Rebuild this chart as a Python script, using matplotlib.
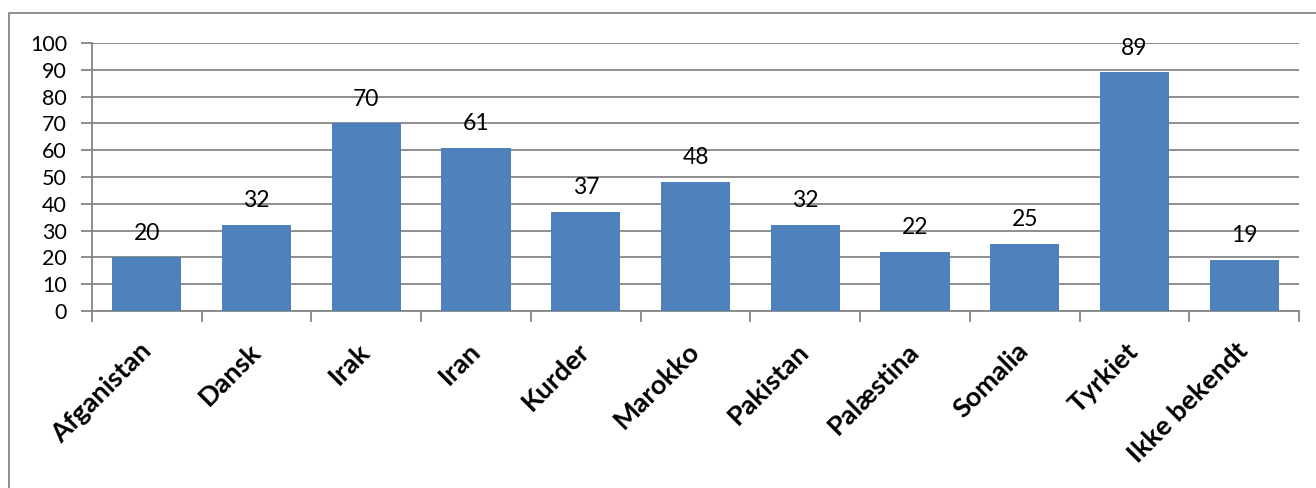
import matplotlib.pyplot as plt
import matplotlib.patches as patches

categories = ['Afganistan', 'Dansk', 'Irak', 'Iran', 'Kurder', 'Marokko',
              'Pakistan', 'Palæstina', 'Somalia', 'Tyrkiet', 'Ikke bekendt']
values = [20, 32, 70, 61, 37, 48, 32, 22, 25, 89, 19]
yticks = [0, 10, 20, 30, 40, 50, 60, 70, 80, 90, 100]

plt.rcParams['font.family'] = ['Lato', 'DejaVu Sans']

fig = plt.figure(figsize=(13.16, 4.88), dpi=100)
ax = fig.add_axes([92 / 1316, 1 - 311 / 488, (1299 - 92) / 1316, (311 - 43) / 488])

grid_col = '#868686'
x = list(range(len(categories)))
ax.bar(x, values, width=0.63, color='#4F81BD', zorder=3)
for xi, v in zip(x, values):
    ax.annotate(str(v), (xi, v), xytext=(0, 10), textcoords='offset points',
                ha='center', va='bottom', fontsize=16.5)

ax.set_xlim(-0.5, len(categories) - 0.5)
ax.set_ylim(0, 100)
ax.set_yticks(yticks)
ax.set_yticklabels([str(t) for t in yticks], fontsize=15.5)
ax.yaxis.grid(True, color=grid_col, lw=1.3, zorder=0)

ax.set_xticks([i - 0.5 for i in range(len(categories) + 1)])
ax.set_xticklabels([])
ax.set_xticks(x, minor=True)
ax.set_xticklabels(categories, minor=True, rotation=45, ha='right', va='center',
                   rotation_mode='anchor', fontsize=19.5, fontweight='bold')
ax.tick_params(axis='x', which='minor', length=0, pad=26)
ax.tick_params(axis='x', which='major', length=8, color=grid_col, width=1.3)
ax.tick_params(axis='y', length=8, color=grid_col, width=1.3, pad=10)

for s in ['top', 'right']:
    ax.spines[s].set_visible(False)
for s in ['left', 'bottom']:
    ax.spines[s].set_color(grid_col)
    ax.spines[s].set_linewidth(1.3)

# chart frame
fig.patches.append(patches.Rectangle((9 / 1316, -0.1), 1.2, 1 - 13 / 488 + 0.1,
                                     transform=fig.transFigure, fill=False,
                                     edgecolor=grid_col, lw=1.3))

fig.savefig('out.png', dpi=100)
